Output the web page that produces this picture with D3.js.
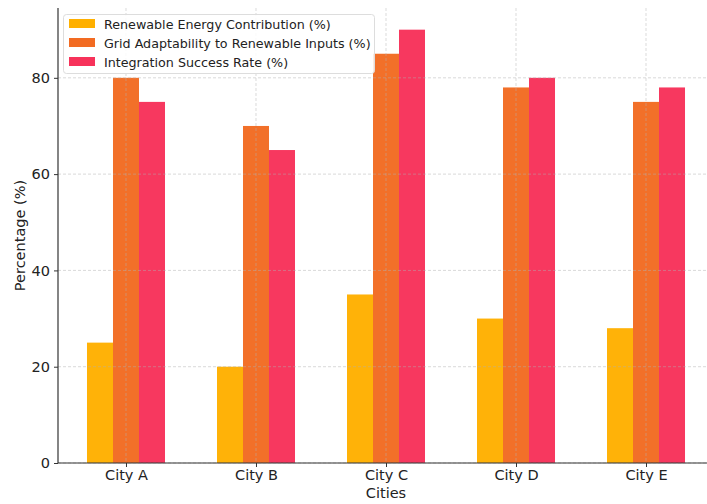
<!DOCTYPE html>
<html>
<head>
<meta charset="utf-8">
<script src="https://cdn.jsdelivr.net/npm/d3@7/dist/d3.min.js"></script>
<style>
  html, body { margin: 0; padding: 0; background: #fff; }
  svg { display: block; font-family: "DejaVu Sans", sans-serif; }
</style>
</head>
<body>
<svg id="chart" width="707" height="504"></svg>
<script>
const cities = ["City A", "City B", "City C", "City D", "City E"];
const renewableContribution = [25, 20, 35, 30, 28];
const gridAdaptability = [80, 70, 85, 78, 75];
const integrationSuccess = [75, 65, 90, 80, 78];
const yTicks = [0, 20, 40, 60, 80];

const seriesNames = [
  "Renewable Energy Contribution (%)",
  "Grid Adaptability to Renewable Inputs (%)",
  "Integration Success Rate (%)"
];
const seriesColors = ["#ffb000", "#f26b22", "#f7325a"];
const seriesValues = [renewableContribution, gridAdaptability, integrationSuccess];

const svg = d3.select("#chart");
const plotLeft = 58, plotRight = 714, plotTop = 8, plotBottom = 463;

// Category positions on a continuous index axis
const x = d3.scaleLinear().domain([-0.523, cities.length - 1 + 0.523]).range([plotLeft, plotRight]);
const y = d3.scaleLinear().domain([0, 94.5]).range([plotBottom, plotTop]);
const barW = x(0.2) - x(0);

// Bars
seriesValues.forEach((vals, s) => {
  svg.append("g").selectAll("rect").data(vals).join("rect")
    .attr("x", (d, i) => x(i + (s - 1) * 0.2 - 0.1))
    .attr("y", d => y(d))
    .attr("width", barW)
    .attr("height", d => y(0) - y(d))
    .attr("fill", seriesColors[s])
    .attr("fill-opacity", 0.97);
});

// Grid drawn above bars
const grid = svg.append("g").attr("stroke", "#b0b0b0").attr("stroke-opacity", 0.6)
  .attr("stroke-width", 0.8).attr("stroke-dasharray", "3,2");
grid.selectAll("line.h").data(yTicks).join("line").attr("class", "h")
  .attr("x1", plotLeft).attr("x2", 707).attr("y1", d => y(d)).attr("y2", d => y(d));
grid.selectAll("line.v").data(cities).join("line").attr("class", "v")
  .attr("x1", (d, i) => x(i)).attr("x2", (d, i) => x(i)).attr("y1", plotTop).attr("y2", plotBottom);

// Axes
const yAxis = svg.append("g").attr("transform", `translate(${plotLeft},0)`)
  .call(d3.axisLeft(y).tickValues(yTicks).tickSize(4).tickPadding(4).tickFormat(d3.format("d")));
const xAxis = svg.append("g").attr("transform", `translate(0,${plotBottom})`)
  .call(d3.axisBottom(x).tickValues(d3.range(cities.length)).tickSize(4).tickPadding(3)
    .tickFormat(i => cities[i]));
[xAxis, yAxis].forEach(g => {
  g.select(".domain").attr("stroke", "#333").attr("stroke-width", 1.2);
  g.selectAll(".tick line").attr("stroke", "#333");
  g.selectAll(".tick text").attr("fill", "#222").attr("font-size", 14.5)
    .attr("font-family", "DejaVu Sans, sans-serif");
});
xAxis.select(".domain").attr("d", `M${plotLeft},0H707`);
yAxis.select(".domain").attr("d", `M0,${plotTop}V${plotBottom}`);

// Axis titles
svg.append("text").attr("x", x(2)).attr("y", 498).attr("text-anchor", "middle")
  .attr("font-size", 14.5).attr("fill", "#222").text("Cities");
svg.append("text").attr("transform", `translate(25,${(plotTop + plotBottom) / 2}) rotate(-90)`)
  .attr("text-anchor", "middle").attr("font-size", 14.5).attr("fill", "#222").text("Percentage (%)");

// Legend
const legend = svg.append("g");
legend.append("rect").attr("x", 63.5).attr("y", 14.5).attr("width", 311).attr("height", 59)
  .attr("rx", 3).attr("fill", "#fff").attr("fill-opacity", 0.85).attr("stroke", "#ddd");
seriesNames.forEach((name, s) => {
  const cy = 24 + s * 19;
  legend.append("rect").attr("x", 69).attr("y", cy - 5).attr("width", 26).attr("height", 9)
    .attr("fill", seriesColors[s]);
  legend.append("text").attr("x", 104).attr("y", cy + 4.5).attr("font-size", 12.7)
    .attr("fill", "#222").text(name);
});
</script>
</body>
</html>
